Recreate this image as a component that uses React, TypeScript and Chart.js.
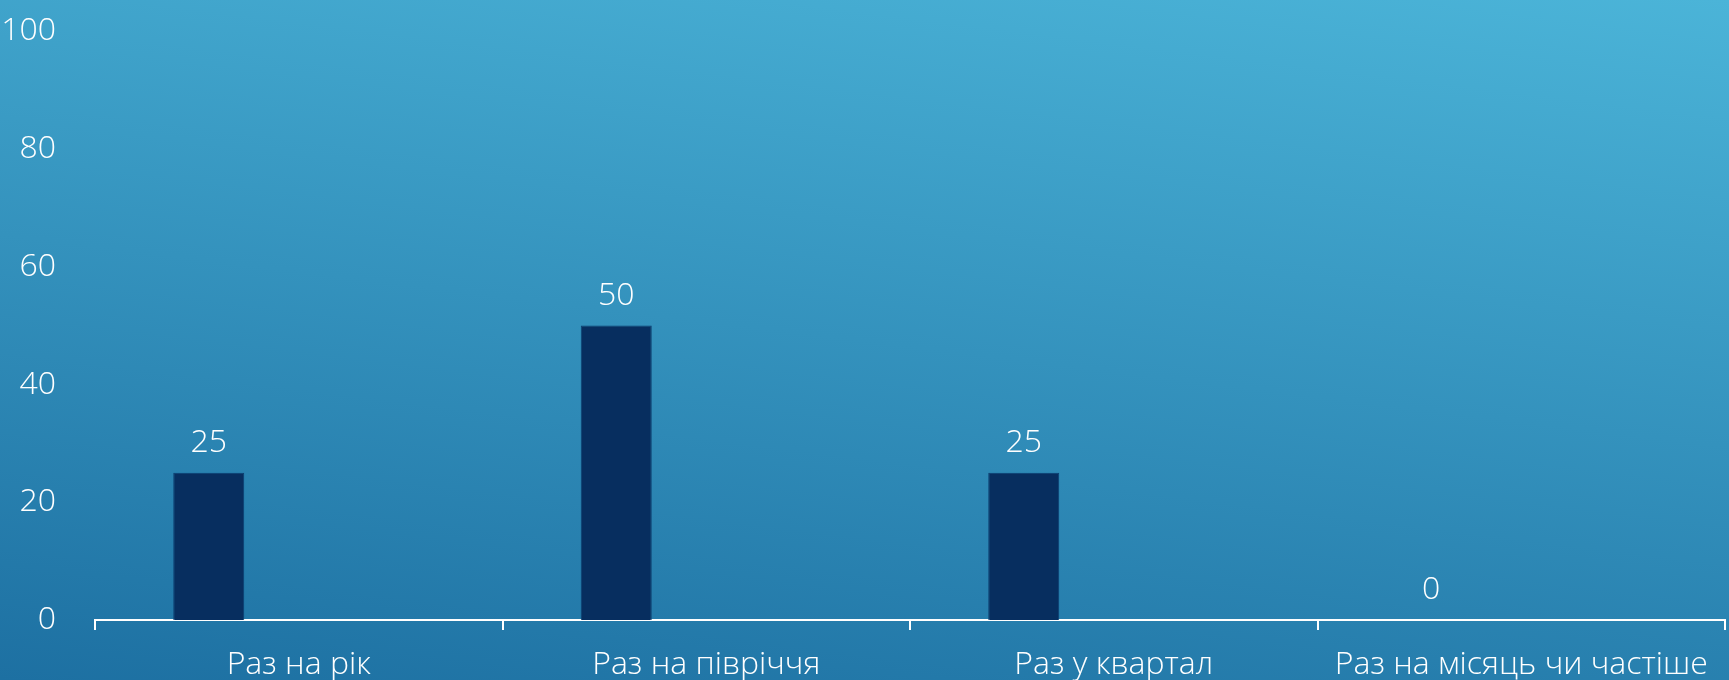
import React, { useEffect, useRef } from "react";
import { Chart, registerables } from "chart.js";

Chart.register(...registerables);

const categories = ["Раз на рік", "Раз на півріччя", "Раз у квартал", "Раз на місяць чи частіше"];
const series1 = [25, 50, 25, 0];
const series2: (number | null)[] = [null, null, null, null];
const series3: (number | null)[] = [null, null, null, null];
const yTicks = [0, 20, 40, 60, 80, 100];

const FONT = "'Open Sans', Lato, sans-serif";
const FSIZE = 32;

const valueLabels = {
  id: "valueLabels",
  afterDatasetsDraw(chart: any) {
    const ctx = chart.ctx;
    const meta = chart.getDatasetMeta(0);
    ctx.save();
    ctx.fillStyle = "#ffffff";
    ctx.font = `300 ${FSIZE}px ${FONT}`;
    ctx.textAlign = "center";
    ctx.textBaseline = "middle";
    meta.data.forEach((bar: any, i: number) => {
      const v = chart.data.datasets[0].data[i];
      ctx.fillText(String(v), bar.x, bar.y - 30);
    });
    ctx.restore();
  },
};

export default function App() {
  const ref = useRef<HTMLCanvasElement | null>(null);
  useEffect(() => {
    if (!ref.current) return;
    const chart = new Chart(ref.current, {
      type: "bar",
      data: {
        labels: categories,
        datasets: [
          { label: "Ряд 1", data: series1, backgroundColor: "#072e5f", borderColor: "#0d3d6e", borderWidth: 1 },
          { label: "Ряд 2", data: series2 as any, backgroundColor: "#072e5f" },
          { label: "Ряд 3", data: series3 as any, backgroundColor: "#072e5f" },
        ],
      },
      options: {
        responsive: false,
        animation: false,
        devicePixelRatio: 1,
        barPercentage: 0.789,
        categoryPercentage: 0.6626,
        layout: { padding: { top: 31, right: 4, bottom: 0, left: 0 } },
        plugins: { legend: { display: false }, tooltip: { enabled: false } },
        scales: {
          x: {
            afterFit: (scale: any) => {
              scale.height = 60;
              scale.paddingLeft = 0;
              scale.paddingRight = 0;
            },
            border: { display: true, color: "#ffffff", width: 2 },
            grid: { display: true, drawOnChartArea: false, drawTicks: true, tickLength: 10, color: "#ffffff", lineWidth: 2, offset: true },
            ticks: { color: "#ffffff", font: { family: FONT, size: FSIZE, weight: "300" as any }, padding: 16, maxRotation: 0, autoSkip: false },
          },
          y: {
            min: 0,
            max: 100,
            afterBuildTicks: (scale: any) => {
              scale.ticks = yTicks.map((v) => ({ value: v }));
            },
            afterFit: (scale: any) => {
              scale.width = 95;
              scale.paddingTop = 0;
              scale.paddingBottom = 0;
            },
            border: { display: false },
            grid: { display: false },
            ticks: { color: "#ffffff", font: { family: FONT, size: FSIZE, weight: "300" as any }, padding: 31 },
          },
        },
      },
      plugins: [valueLabels],
    });
    return () => chart.destroy();
  }, []);
  return (
    <div
      style={{
        position: "fixed",
        left: 0,
        top: 0,
        width: 1729,
        height: 680,
        background: "linear-gradient(7deg, rgb(29,112,162) 0%, rgb(75,180,216) 100%)",
      }}
    >
      <canvas ref={ref} width={1729} height={680} style={{ display: "block" }} />
    </div>
  );
}
